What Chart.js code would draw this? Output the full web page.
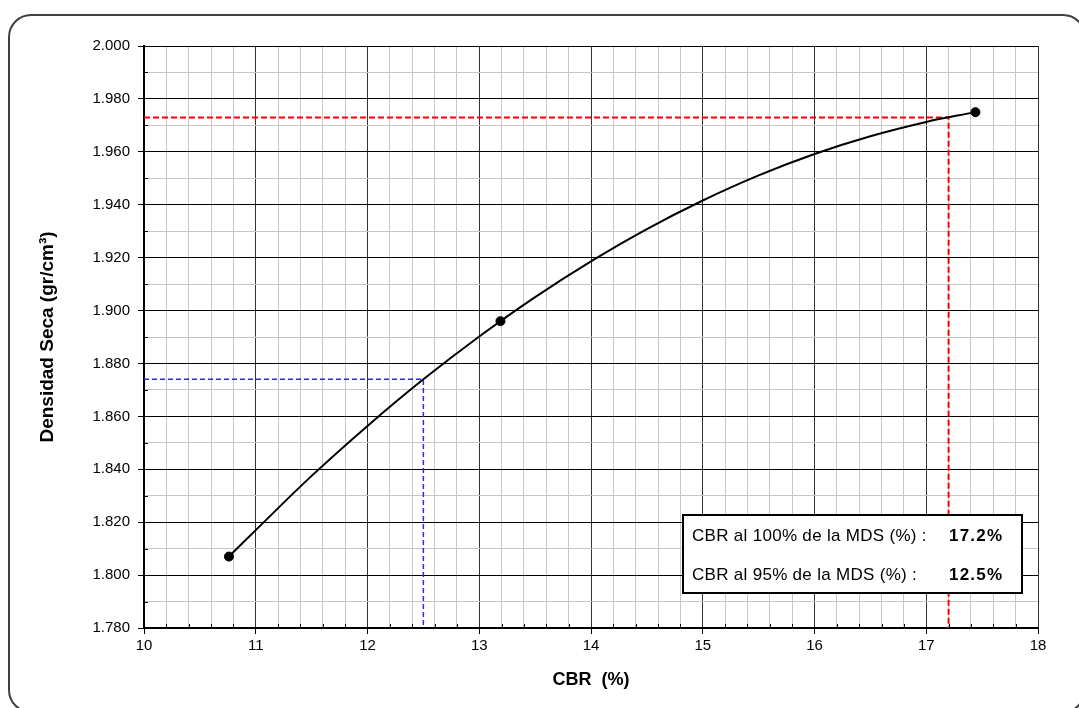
<!DOCTYPE html>
<html>
<head>
<meta charset="utf-8">
<script src="https://cdn.jsdelivr.net/npm/chart.js@4.4.1/dist/chart.umd.min.js"></script>
<style>
  body { margin: 0; background: #fff; }
  #wrap { width: 1079px; height: 708px; }
</style>
</head>
<body>
<div id="wrap"><canvas id="cbrChart" width="1079" height="708"></canvas></div>
<script>
// ensayo: puntos medidos
const cbrPoints = [10.76, 13.19, 17.44];
const densityPoints = [1.807, 1.896, 1.975];

// curva de ajuste
const curveCbr = [10.76, 11, 11.5, 12, 12.5, 13, 13.5, 14, 14.5, 15, 15.5, 16, 16.5, 17, 17.44];
const curveDensity = [1.807, 1.817, 1.8375, 1.8564, 1.874, 1.8902, 1.9051, 1.9186, 1.9308, 1.9416, 1.9511, 1.9592, 1.9659, 1.9713, 1.975];

// lecturas al 100% y 95% de la MDS
const cbr100 = 17.2, mds100 = 1.973;
const cbr95 = 12.5, mds95 = 1.874;

const resultLabels = ['CBR al 100% de la MDS (%) :', 'CBR al 95% de la MDS (%) :'];
const resultValues = ['17.2%', '12.5%'];

const xMin = 10, xMax = 18, xStep = 0.2;
const yMin = 1.78, yMax = 2.0, yStep = 0.01;

const FONT = "'Liberation Sans', Arial, sans-serif";

function isMajorX(v) { return Math.abs(v - Math.round(v)) < 1e-6; }
function isMajorY(v) { return Math.round(v * 1000) % 20 === 0; }

const framePlugin = {
    id: 'frame',
    beforeDraw(chart) {
        const ctx = chart.ctx;
        ctx.save();
        ctx.fillStyle = '#fff';
        ctx.fillRect(0, 0, chart.width, chart.height);
        ctx.beginPath();
        ctx.roundRect(9, 15, 1076, 697, 22);
        ctx.strokeStyle = '#404040';
        ctx.lineWidth = 2;
        ctx.stroke();
        ctx.restore();
    },
    afterDatasetsDraw(chart) {
        const ctx = chart.ctx;
        const xs = chart.scales.x, ys = chart.scales.y;
        const area = chart.chartArea;
        ctx.save();
        // small inner ticks on minor divisions
        ctx.strokeStyle = '#000';
        ctx.lineWidth = 1;
        ctx.beginPath();
        xs.ticks.forEach(t => {
            if (isMajorX(t.value)) return;
            const px = Math.round(xs.getPixelForValue(t.value)) + 0.5;
            ctx.moveTo(px, area.bottom);
            ctx.lineTo(px, area.bottom - 4);
        });
        ys.ticks.forEach(t => {
            if (isMajorY(t.value)) return;
            const py = Math.round(ys.getPixelForValue(t.value)) + 0.5;
            ctx.moveTo(area.left, py);
            ctx.lineTo(area.left + 4, py);
        });
        ctx.stroke();

        // result box
        const bx = 683, by = 515, bw = 339, bh = 78;
        ctx.fillStyle = '#fff';
        ctx.fillRect(bx, by, bw, bh);
        ctx.strokeStyle = '#000';
        ctx.lineWidth = 2;
        ctx.strokeRect(bx, by, bw, bh);
        ctx.fillStyle = '#000';
        ctx.textBaseline = 'middle';
        ctx.textAlign = 'left';
        resultLabels.forEach((lbl, i) => {
            const ty = by + 21 + i * 39;
            ctx.font = '17px ' + FONT;
            ctx.letterSpacing = '0.3px';
            ctx.fillText(lbl, bx + 9, ty);
            ctx.font = 'bold 17px ' + FONT;
            ctx.letterSpacing = '1.2px';
            ctx.fillText(resultValues[i], bx + 266, ty);
        });
        ctx.restore();
    }
};

const ctx = document.getElementById('cbrChart').getContext('2d');
new Chart(ctx, {
    type: 'scatter',
    data: {
        datasets: [
            {
                label: 'Puntos',
                data: cbrPoints.map((x, i) => ({ x: x, y: densityPoints[i] })),
                backgroundColor: '#000',
                borderColor: '#000',
                pointRadius: 4.5,
                showLine: false
            },
            {
                label: 'Curva',
                data: curveCbr.map((x, i) => ({ x: x, y: curveDensity[i] })),
                borderColor: '#000',
                borderWidth: 2,
                pointRadius: 0,
                showLine: true,
                tension: 0.4
            },
            {
                label: '100% MDS',
                data: [{ x: xMin, y: mds100 }, { x: cbr100, y: mds100 }, { x: cbr100, y: yMin }],
                borderColor: '#ff0000',
                borderWidth: 2,
                borderDash: [6, 3],
                pointRadius: 0,
                showLine: true,
                tension: 0
            },
            {
                label: '95% MDS',
                data: [{ x: xMin, y: mds95 }, { x: cbr95, y: mds95 }, { x: cbr95, y: yMin }],
                borderColor: '#2b2bd0',
                borderWidth: 1.5,
                borderDash: [5, 3],
                pointRadius: 0,
                showLine: true,
                tension: 0
            }
        ]
    },
    options: {
        responsive: false,
        animation: false,
        layout: { padding: { top: 46, right: 41, left: 0, bottom: 0 } },
        plugins: {
            legend: { display: false },
            tooltip: { enabled: false }
        },
        scales: {
            x: {
                type: 'linear',
                min: xMin,
                max: xMax,
                afterFit: (scale) => { scale.height = 80; },
                ticks: {
                    stepSize: xStep,
                    autoSkip: false,
                    maxRotation: 0,
                    maxTicksLimit: 100,
                    padding: 3,
                    color: '#000',
                    font: { family: FONT, size: 15 },
                    callback: (v) => isMajorX(v) ? String(Math.round(v)) : ''
                },
                grid: {
                    color: (c) => (c.tick && isMajorX(c.tick.value)) ? '#333' : '#c6c6c6',
                    tickColor: (c) => (c.tick && isMajorX(c.tick.value)) ? '#000' : 'rgba(0,0,0,0)',
                    tickLength: 6,
                    lineWidth: 1
                },
                border: { color: '#000', width: 2 },
                title: {
                    display: true,
                    text: 'CBR  (%)',
                    color: '#000',
                    font: { family: FONT, size: 18, weight: 'bold' },
                    padding: { top: 0, bottom: 17 }
                }
            },
            y: {
                type: 'linear',
                min: yMin,
                max: yMax,
                afterFit: (scale) => { scale.width = 144; },
                ticks: {
                    stepSize: yStep,
                    autoSkip: false,
                    maxTicksLimit: 100,
                    padding: 8,
                    color: '#000',
                    font: { family: FONT, size: 15 },
                    callback: (v) => isMajorY(v) ? v.toFixed(3) : ''
                },
                grid: {
                    color: (c) => (c.tick && isMajorY(c.tick.value)) ? '#000' : '#c6c6c6',
                    tickColor: (c) => (c.tick && isMajorY(c.tick.value)) ? '#000' : 'rgba(0,0,0,0)',
                    tickLength: 6,
                    lineWidth: 1
                },
                border: { color: '#000', width: 2 },
                title: {
                    display: true,
                    text: 'Densidad Seca (gr/cm³)',
                    color: '#000',
                    font: { family: FONT, size: 19, weight: 'bold' },
                    padding: { top: 36, bottom: 0 }
                }
            }
        }
    },
    plugins: [framePlugin]
});
</script>
</body>
</html>
